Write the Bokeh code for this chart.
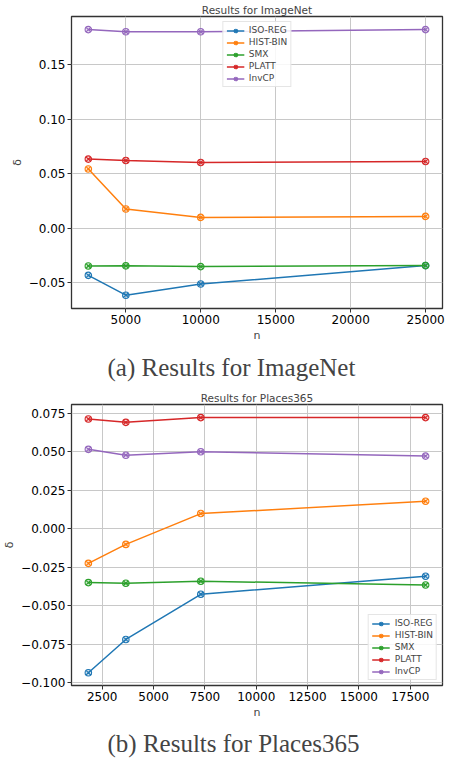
from bokeh.plotting import figure
from bokeh.layouts import column
from bokeh.models import Range1d, FixedTicker, Title, Legend
from bokeh.embed import file_html
from bokeh.resources import INLINE

methods = ["ISO-REG", "HIST-BIN", "SMX", "PLATT", "InvCP"]
colors = ["#1f77b4", "#ff7f0e", "#2ca02c", "#d62728", "#9467bd"]

# ImageNet
n_imagenet = [2500, 5000, 10000, 25000]
imagenet_iso = [-0.0432, -0.0614, -0.0512, -0.0343]
imagenet_hist = [0.0543, 0.0176, 0.0099, 0.0108]
imagenet_smx = [-0.0346, -0.0345, -0.0352, -0.0343]
imagenet_platt = [0.0633, 0.0620, 0.0602, 0.0611]
imagenet_invcp = [0.1820, 0.1800, 0.1800, 0.1820]

# Places365
n_places = [1825, 3650, 7300, 18250]
places_iso = [-0.0935, -0.0719, -0.0426, -0.0309]
places_hist = [-0.0225, -0.0102, 0.0098, 0.0178]
places_smx = [-0.0350, -0.0354, -0.0341, -0.0366]
places_platt = [0.0712, 0.0690, 0.0721, 0.0721]
places_invcp = [0.0515, 0.0477, 0.0499, 0.0471]

imagenet_xticks = [5000, 10000, 15000, 20000, 25000]
imagenet_yticks = [-0.05, 0.0, 0.05, 0.10, 0.15]
imagenet_ylabels = ["\u22120.05", "0.00", "0.05", "0.10", "0.15"]

places_xticks = [2500, 5000, 7500, 10000, 12500, 15000, 17500]
places_yticks = [-0.100, -0.075, -0.050, -0.025, 0.0, 0.025, 0.050, 0.075]
places_ylabels = ["\u22120.100", "\u22120.075", "\u22120.050", "\u22120.025",
                  "0.000", "0.025", "0.050", "0.075"]

TICK_FONT = "DejaVu Sans"


def make_plot(title, caption, xs, series, xticks, yticks, ylabels,
              xr, yr, legend_loc, height, cap_standoff):
    p = figure(width=446, height=height, output_backend="svg",
               toolbar_location=None,
               x_range=Range1d(*xr), y_range=Range1d(*yr),
               min_border_left=4, min_border_right=4, min_border_top=0,
               min_border_bottom=0)
    p.title.text = title
    p.title.text_font = TICK_FONT
    p.title.text_font_size = "10.5px"
    p.title.text_font_style = "normal"
    p.title.align = "center"
    p.title.standoff = 2
    p.title.offset = 0

    p.outline_line_color = "#333333"
    p.outline_line_width = 1.3

    for ax in (p.xaxis[0], p.yaxis[0]):
        ax.axis_line_color = None
        ax.major_tick_in = 0
        ax.major_tick_out = 4
        ax.minor_tick_line_color = None
        ax.major_tick_line_color = "#333333"
        ax.major_label_text_font = TICK_FONT
        ax.major_label_text_font_size = "12px"
        ax.major_label_text_color = "#000000"
        ax.axis_label_text_font = TICK_FONT
        ax.axis_label_text_font_size = "11px"
        ax.axis_label_text_font_style = "normal"
        ax.axis_label_standoff = 2
        ax.major_label_standoff = 2

    p.xaxis[0].ticker = FixedTicker(ticks=xticks)
    p.yaxis[0].ticker = FixedTicker(ticks=yticks)
    p.yaxis[0].major_label_overrides = {t: l for t, l in zip(yticks, ylabels)}
    p.xaxis[0].axis_label = "n"
    p.yaxis[0].axis_label = "\u03b4"

    p.grid.grid_line_color = "#c8c8c8"
    p.grid.grid_line_width = 1

    items = []
    for name, col, ys in zip(methods, colors, series):
        r1 = p.line(xs, ys, line_color=col, line_width=1.5)
        r2 = p.scatter(xs, ys, marker="circle_x", size=6.5, line_color=col,
                       fill_color=col, fill_alpha=0.2, line_width=1.1)
        items.append((name, [r1, r2]))

    leg = Legend(items=items, location=legend_loc)
    leg.label_text_font = TICK_FONT
    leg.label_text_font_size = "9px"
    leg.label_height = 9
    leg.glyph_height = 9
    leg.glyph_width = 18
    leg.spacing = 2
    leg.padding = 3
    leg.margin = 5
    leg.label_standoff = 5
    leg.border_line_color = "#cccccc"
    leg.border_line_width = 1
    leg.background_fill_alpha = 0.85
    p.add_layout(leg, "center")

    cap = Title(text=caption, align="left", offset=36, text_font="Liberation Serif",
                text_font_size="25px", text_font_style="normal", standoff=cap_standoff)
    p.add_layout(cap, "below")
    return p


p1 = make_plot("Results for ImageNet", "(a) Results for ImageNet", n_imagenet,
               [imagenet_iso, imagenet_hist, imagenet_smx, imagenet_platt, imagenet_invcp],
               imagenet_xticks, imagenet_yticks, imagenet_ylabels,
               (1375, 26125), (-0.0736, 0.194), "top_center", 388, 15)
p2 = make_plot("Results for Places365", "(b) Results for Places365", n_places,
               [places_iso, places_hist, places_smx, places_platt, places_invcp],
               places_xticks, places_yticks, places_ylabels,
               (1004, 19071), (-0.1018, 0.0806), "bottom_right", 374, 12)

layout = column(p1, p2, spacing=0)
open("out.html", "w").write(file_html(layout, INLINE))
